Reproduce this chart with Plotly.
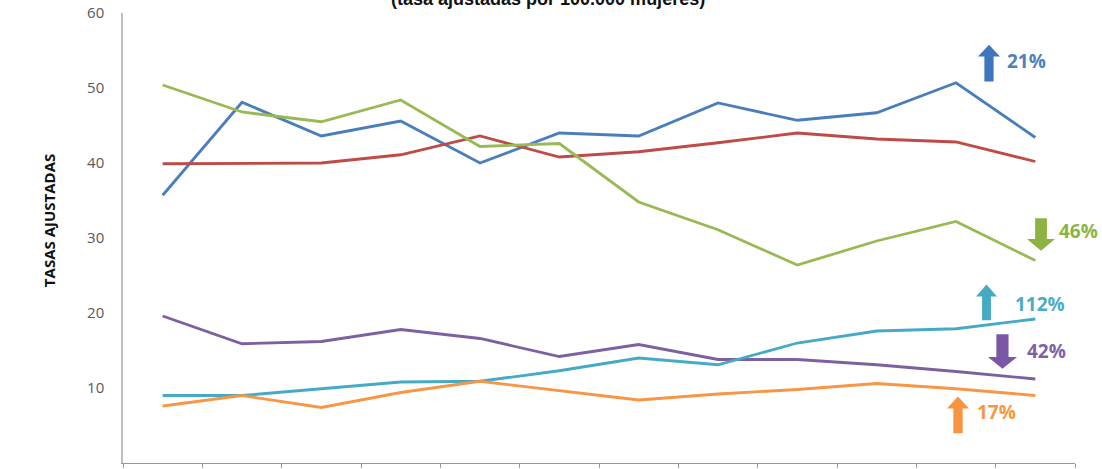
import plotly.graph_objects as go

# 12 periods along the (label-less) x axis
periodos = list(range(1, 13))

serie_azul = [35.7, 48.1, 43.6, 45.6, 40.0, 44.0, 43.6, 48.0, 45.7, 46.7, 50.7, 43.4]
serie_roja = [39.9, 40.0, 40.0, 41.1, 43.6, 40.8, 41.5, 42.7, 44.0, 43.2, 42.8, 40.2]
serie_verde = [50.4, 46.8, 45.5, 48.4, 42.2, 42.6, 34.8, 31.1, 26.4, 29.6, 32.2, 27.0]
serie_morada = [19.6, 15.9, 16.2, 17.8, 16.6, 14.2, 15.8, 13.8, 13.8, 13.1, 12.2, 11.2]
serie_celeste = [9.0, 9.0, 9.9, 10.8, 10.9, 12.3, 14.0, 13.1, 16.0, 17.6, 17.9, 19.2]
serie_naranja = [7.6, 9.0, 7.4, 9.4, 10.9, 9.6, 8.4, 9.2, 9.8, 10.6, 9.9, 9.0]

cambios = ["21%", "46%", "112%", "42%", "17%"]

W, H = 1102, 469
L, R, T, B = 123, 27, 13, 2
PW, PH = W - L - R, H - T - B

fig = go.Figure()

series = [
    (serie_azul, "#4A7EBB"),
    (serie_roja, "#BE4B48"),
    (serie_verde, "#98B954"),
    (serie_morada, "#7D60A0"),
    (serie_celeste, "#46AAC5"),
    (serie_naranja, "#F79646"),
]
for vals, color in series:
    fig.add_trace(go.Scatter(x=periodos, y=vals, mode="lines",
                             line=dict(color=color, width=2.8),
                             showlegend=False, hoverinfo="y"))


def px(x):
    return (x - L) / PW


def py(y):
    return (H - B - y) / PH


def block_arrow(x0, x1, top, bottom, up, color, shaft=0.42, head=12):
    # block arrow drawn in paper coords from pixel box
    cx = (x0 + x1) / 2
    hw = (x1 - x0) * shaft / 2
    if up:
        pts = [(cx, top), (x1, top + head), (cx + hw, top + head), (cx + hw, bottom),
               (cx - hw, bottom), (cx - hw, top + head), (x0, top + head)]
    else:
        pts = [(cx, bottom), (x1, bottom - head), (cx + hw, bottom - head), (cx + hw, top),
               (cx - hw, top), (cx - hw, bottom - head), (x0, bottom - head)]
    path = "M " + " L ".join(f"{px(a):.4f},{py(b):.4f}" for a, b in pts) + " Z"
    fig.add_shape(type="path", path=path, xref="paper", yref="paper",
                  fillcolor=color, line=dict(width=0), layer="above")


flechas = [
    # x0, x1, top, bottom, up, arrow colour, text x, text y, text colour
    (978, 1000, 45, 82, True, "#3F75BE", 1005, 61, "#4F81BD"),
    (1027, 1055, 220, 253, False, "#8DB443", 1057, 233, "#8DB443"),
    (976, 997, 287, 323, True, "#46AAC5", 1013, 307, "#4BACC6"),
    (988, 1017, 337, 372, False, "#7A58A6", 1025, 354, "#7F62A4"),
    (947, 969, 400, 437, True, "#F7943F", 975, 416, "#F79646"),
]
for (x0, x1, top, bot, up, col, tx, ty, tcol), txt in zip(flechas, cambios):
    block_arrow(x0, x1, top, bot, up, col)
    fig.add_annotation(x=px(tx), y=py(ty), xref="paper", yref="paper",
                       text=f"<b>{txt}</b>", showarrow=False, xanchor="left", yanchor="middle",
                       font=dict(family="Open Sans", size=19, color=tcol))

# title line is cropped by the top edge, as in the source image
fig.add_annotation(x=px(548), y=py(11), xref="paper", yref="paper",
                   text="<b>(tasa ajustadas por 100.000 mujeres)</b>", showarrow=False,
                   xanchor="center", yanchor="bottom",
                   font=dict(family="Liberation Sans", size=18, color="#111111"))

fig.add_annotation(x=px(37), y=py(223), xref="paper", yref="paper",
                   text="<b>TASAS AJUSTADAS</b>", showarrow=False, textangle=-90,
                   font=dict(family="Open Sans", size=15, color="#111111"))

fig.update_layout(
    width=W, height=H,
    margin=dict(l=L, r=R, t=T, b=B),
    plot_bgcolor="white", paper_bgcolor="white",
    hovermode="closest",
)
fig.update_xaxes(range=[0.5, 12.5], tick0=0.5, dtick=1, showticklabels=False,
                 ticks="outside", ticklen=4, tickcolor="#999999",
                 showline=True, linecolor="#999999", linewidth=1,
                 showgrid=False, zeroline=False)
fig.update_yaxes(range=[0, 60], dtick=10, showgrid=False, zeroline=False,
                 showline=True, linecolor="#c0c0c0", linewidth=1.5,
                 ticks="", ticklabelstandoff=14,
                 tickfont=dict(family="Open Sans", size=15, color="#595959"))

# page body margin would shift the figure by 8px
fig.write_html("out.html", config={"displayModeBar": False},
               post_script="document.body.style.margin='0';")
